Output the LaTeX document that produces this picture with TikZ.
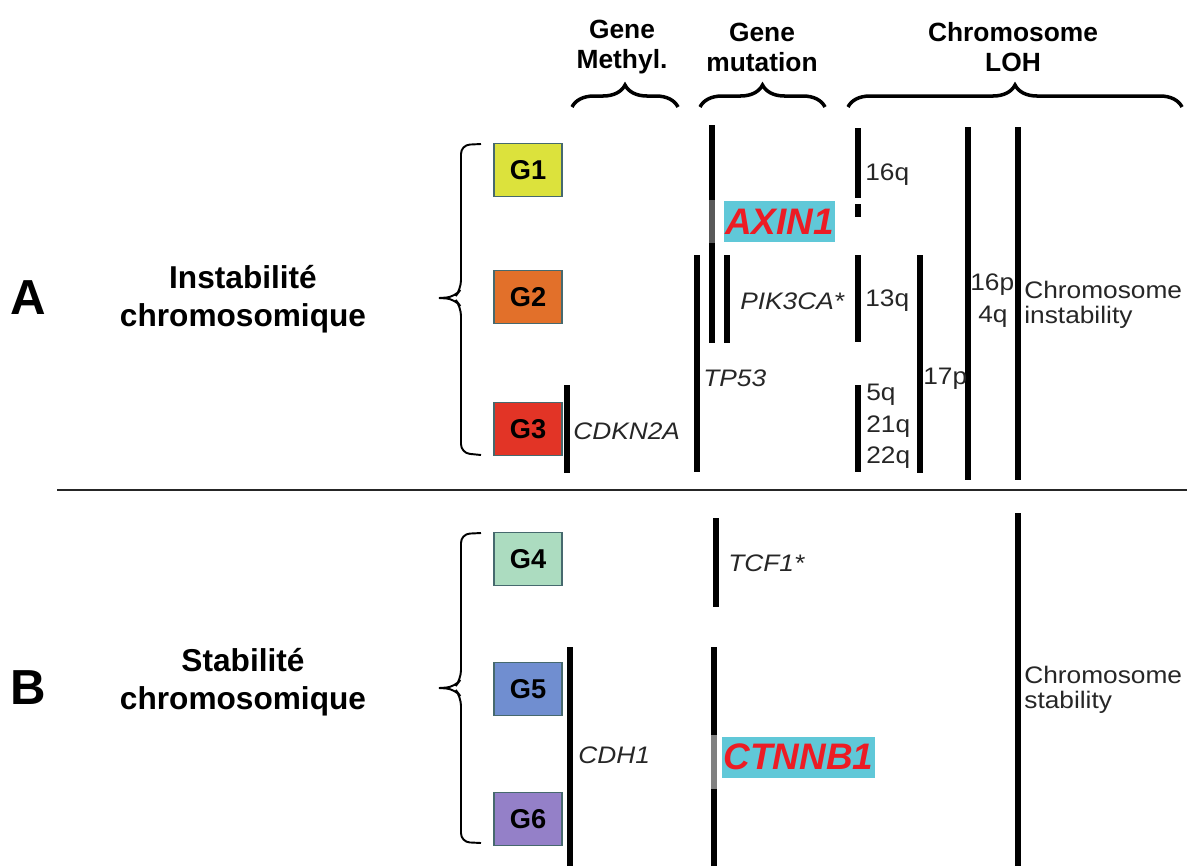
\documentclass[tikz,border=0pt]{standalone}
\usepackage{xcolor}
\usepackage{fontspec}
\setmainfont{Liberation Sans}
\newfontfamily\labfont[FakeStretch=1.1]{Liberation Sans}
\usepackage{tikz}
\usetikzlibrary{positioning}
\usetikzlibrary{decorations.pathreplacing}

\definecolor{gone}{RGB}{220,226,60}
\definecolor{gtwo}{RGB}{226,112,42}
\definecolor{gthree}{RGB}{226,52,38}
\definecolor{gfour}{RGB}{172,220,192}
\definecolor{gfive}{RGB}{112,142,208}
\definecolor{gsix}{RGB}{148,128,200}
\definecolor{boxline}{RGB}{70,105,110}
\definecolor{cyanbox}{RGB}{96,200,216}
\definecolor{redtxt}{RGB}{236,28,36}

\begin{document}
\begin{tikzpicture}[x=0.02cm,y=-0.02cm,
  bar/.style={line width=3.4pt},
  lab/.style={anchor=west,inner sep=0pt,text=black!85,font=\labfont\fontsize{13.6}{14}\selectfont},
  gbox/.style={draw=boxline,line width=0.8pt,minimum width=1.36cm,minimum height=1.06cm,inner sep=0pt,font=\bfseries\fontsize{15.5}{17}\selectfont},
  head/.style={align=center,inner sep=0pt,font=\bfseries\fontsize{15}{17}\selectfont},
  side/.style={align=center,inner sep=0pt,font=\bfseries\fontsize{18}{21.5}\selectfont},
  panel/.style={inner sep=0pt,font=\bfseries\fontsize{28}{30}\selectfont},
  topbrace/.style={decorate,decoration={brace,amplitude=0.44cm},line width=2pt},
  sidebrace/.style={line width=1.1pt,rounded corners=5pt},
  hilite/.style={fill=cyanbox,text=redtxt,inner sep=0pt,font=\bfseries\itshape\fontsize{21}{24}\selectfont}]
\useasboundingbox (0,0) rectangle (1192,866);

% column headers
\node[head] at (622,47) (methyl) {Gene\\Methyl.};
\node[head] at (762,47) (mutation) {Gene\\mutation};
\node[head] at (1013,47) (loh) {Chromosome\\LOH};
\draw[topbrace] (572,107) -- (678,107);
\draw[topbrace] (700,107) -- (825,107);
\draw[topbrace] (848,107) -- (1182,107);

% groups
\node[gbox,fill=gone] at (528,170) (G1) {G1};
\node[gbox,fill=gtwo] at (528,297) (G2) {G2};
\node[gbox,fill=gthree] at (528,429) (G3) {G3};
\node[gbox,fill=gfour] at (528,559) (G4) {G4};
\node[gbox,fill=gfive] at (528,689) (G5) {G5};
\node[gbox,fill=gsix] at (528,819) (G6) {G6};

\draw[sidebrace] (481,144) -- (461,145) -- (461,289) -- (455,297) -- (439,298);
\draw[sidebrace] (439,298) -- (455,299) -- (461,307) -- (461,453) -- (481,455);
\draw[sidebrace] (481,533) -- (461,534) -- (461,679) -- (455,687) -- (439,688);
\draw[sidebrace] (439,688) -- (455,689) -- (461,697) -- (461,842) -- (481,843);
\node[panel] at (28,298) (A) {A};
\node[panel] at (28,688) (B) {B};
\node[side] at (243,299) (instab) {Instabilité\\chromosomique};
\node[side] at (243,682) (stab) {Stabilité\\chromosomique};

\draw[line width=1.2pt,black!85] (57,490) -- (1187,490);

% bars
\foreach \x/\ya/\yb in {567/385/473, 697/255/472, 712/125/343, 727/255/343,
  858/128/198, 858/204/217, 858/255/342, 858/385/472, 920/255/473,
  968/127/480, 1018/127/480, 716/518/607, 714/647/866, 570/647/866, 1018/513/866}
  \draw[bar] (\x,\ya) -- (\x,\yb);

% labels
\node[lab] at (573,431) (cdkn) {\itshape CDKN2A};
\node[lab] at (703,378) (tp) {\itshape TP53};
\node[lab] at (740,301) (pik) {\itshape PIK3CA*};
\node[lab] at (865,175) (q16) {16q};
\node[lab] at (865,301) (q13) {13q};
\node[lab] at (866,395) (q5) {5q};
\node[lab] at (866,427) (q21) {21q};
\node[lab] at (866,458) (q22) {22q};
\node[lab] at (923,379) (p17) {17p};
\node[lab] at (970,285) (p16) {16p};
\node[lab] at (978,317) (q4) {4q};
\node[lab,align=left] at (1024,305) (cin) {Chromosome\\instability};
\node[lab] at (728,563) (tcf) {\itshape TCF1*};
\node[lab] at (578,755) (cdh) {\itshape CDH1};
\node[lab,align=left] at (1024,690) (cs) {Chromosome\\stability};

% highlighted genes
\fill[white,opacity=.35] (704,200) rectangle (724,243);
\fill[white,opacity=.5] (704,735) rectangle (722,789);
\node[hilite,minimum width=2.22cm,minimum height=0.82cm] at (779.5,221.5) (axin) {AXIN1};
\node[hilite,minimum width=3.06cm,minimum height=0.82cm] at (798.5,757) (ctnnb) {CTNNB1};
\end{tikzpicture}
\end{document}
